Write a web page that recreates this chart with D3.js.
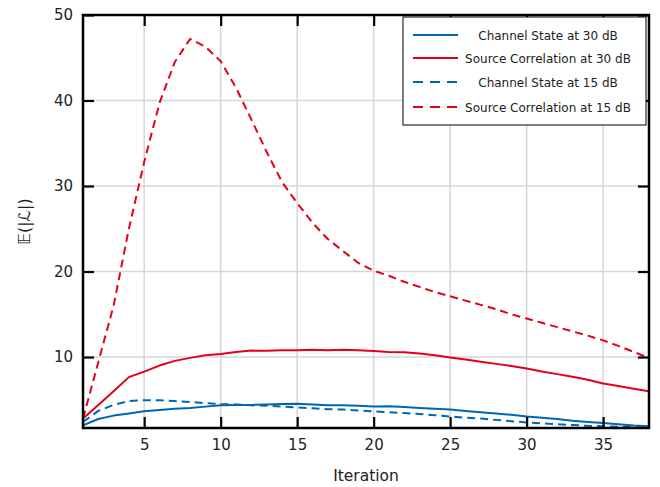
<!DOCTYPE html>
<html>
<head>
<meta charset="utf-8">
<script src="https://cdn.jsdelivr.net/npm/d3@7"></script>
<style>
  html, body { margin: 0; padding: 0; background: #fff; }
  svg { display: block; }
  text { font-family: "DejaVu Sans", sans-serif; fill: #222; }
</style>
</head>
<body>
<svg id="chart" width="660" height="487"></svg>
<script>
// Iterations 1..38
const iterations = d3.range(1, 39);

// Mean |L| per iteration for each setting
const channel30 = [2.0, 2.75, 3.15, 3.4, 3.65, 3.8, 3.95, 4.05, 4.2, 4.35,
  4.4, 4.4, 4.45, 4.5, 4.55, 4.45, 4.35, 4.35, 4.3, 4.2,
  4.25, 4.15, 4.05, 3.95, 3.85, 3.7, 3.55, 3.4, 3.25, 3.05,
  2.9, 2.75, 2.55, 2.4, 2.28, 2.15, 2.0, 1.9];
const source30 = [2.8, 4.4, 6.0, 7.65, 8.3, 9.0, 9.55, 9.9, 10.2, 10.35,
  10.6, 10.75, 10.72, 10.8, 10.78, 10.85, 10.8, 10.85, 10.8, 10.7,
  10.6, 10.55, 10.4, 10.2, 9.95, 9.7, 9.45, 9.2, 8.95, 8.65,
  8.3, 8.0, 7.7, 7.35, 6.9, 6.6, 6.3, 6.0];
const channel15 = [2.4, 3.7, 4.4, 4.85, 4.95, 4.95, 4.85, 4.75, 4.6, 4.5,
  4.45, 4.35, 4.3, 4.2, 4.1, 4.0, 3.9, 3.85, 3.75, 3.65,
  3.55, 3.45, 3.35, 3.2, 3.05, 2.9, 2.8, 2.65, 2.5, 2.35,
  2.25, 2.15, 2.05, 1.95, 1.9, 1.85, 1.8, 1.75];
const source15 = [2.8, 9.4, 16.0, 25.0, 32.8, 39.7, 44.5, 47.2, 46.3, 44.6,
  41.5, 37.8, 34.0, 30.5, 28.0, 25.7, 23.8, 22.4, 21.0, 20.1,
  19.5, 18.8, 18.2, 17.6, 17.1, 16.6, 16.1, 15.6, 15.0, 14.5,
  14.0, 13.5, 13.0, 12.5, 11.95, 11.3, 10.6, 9.9];

const xTicks = [5, 10, 15, 20, 25, 30, 35];
const yTicks = [10, 20, 30, 40, 50];

const seriesNames = ["Channel State at 30 dB", "Source Correlation at 30 dB",
  "Channel State at 15 dB", "Source Correlation at 15 dB"];
const seriesValues = [channel30, source30, channel15, source15];
const seriesColors = ["#0066b3", "#e3001b", "#0066b3", "#e3001b"];
const seriesDashed = [false, false, true, true];

const svg = d3.select("#chart");
const margin = { left: 83, right: 11, top: 15, bottom: 59 };
const W = 660, H = 487;
const x0 = margin.left, x1 = W - margin.right;
const y0 = H - margin.bottom, y1 = margin.top;

const x = d3.scaleLinear().domain([1, 38]).range([x0, x1]);
const y = d3.scaleLinear().domain([1.7, 50]).range([y0, y1]);

// grid
const grid = svg.append("g");
grid.selectAll(".gx").data(xTicks).join("line")
  .attr("x1", d => x(d)).attr("x2", d => x(d))
  .attr("y1", y0).attr("y2", y1)
  .attr("stroke", "#d6d6d6").attr("stroke-width", 1.5);
grid.selectAll(".gy").data(yTicks).join("line")
  .attr("x1", x0).attr("x2", x1)
  .attr("y1", d => y(d)).attr("y2", d => y(d))
  .attr("stroke", "#d6d6d6").attr("stroke-width", 1.5);

// data lines
const plot = svg.append("g");
plot.append("clipPath").attr("id", "clip").append("rect")
  .attr("x", x0).attr("y", y1).attr("width", x1 - x0).attr("height", y0 - y1);
const line = d3.line().x((d, i) => x(iterations[i])).y(d => y(d));
seriesValues.forEach((vals, k) => {
  plot.append("path")
    .attr("clip-path", "url(#clip)")
    .attr("d", line(vals))
    .attr("fill", "none")
    .attr("stroke", seriesColors[k])
    .attr("stroke-width", 2)
    .attr("stroke-dasharray", seriesDashed[k] ? "8,5" : null)
    .attr("stroke-linejoin", "round");
});

// axes with inward ticks on all four sides
const tickLen = 11;
const axB = svg.append("g").attr("transform", `translate(0,${y0})`)
  .call(d3.axisBottom(x).tickValues(xTicks).tickSizeInner(-tickLen).tickSizeOuter(0).tickPadding(11));
const axT = svg.append("g").attr("transform", `translate(0,${y1})`)
  .call(d3.axisTop(x).tickValues(xTicks).tickSizeInner(-tickLen).tickSizeOuter(0).tickFormat(""));
const axL = svg.append("g").attr("transform", `translate(${x0},0)`)
  .call(d3.axisLeft(y).tickValues(yTicks).tickSizeInner(-tickLen).tickSizeOuter(0).tickPadding(10));
const axR = svg.append("g").attr("transform", `translate(${x1},0)`)
  .call(d3.axisRight(y).tickValues(yTicks).tickSizeInner(-tickLen).tickSizeOuter(0).tickFormat(""));
[axB, axT, axL, axR].forEach(a => {
  a.select(".domain").remove();
  a.selectAll(".tick line").attr("stroke", "#000").attr("stroke-width", 2.2);
  a.selectAll(".tick text").attr("font-size", 15).attr("fill", "#222")
    .attr("font-family", "'DejaVu Sans', sans-serif");
});

// frame
svg.append("rect").attr("x", x0).attr("y", y1)
  .attr("width", x1 - x0).attr("height", y0 - y1)
  .attr("fill", "none").attr("stroke", "#000").attr("stroke-width", 2.5);

// axis titles
svg.append("text").attr("x", (x0 + x1) / 2).attr("y", 481)
  .attr("text-anchor", "middle").attr("font-size", 15.5).text("Iteration");
svg.append("text")
  .attr("transform", `translate(30,${(y0 + y1) / 2}) rotate(-90)`)
  .attr("text-anchor", "middle").attr("font-size", 16)
  .text("𝔼(|ℒ|)");

// legend
const lg = svg.append("g");
const lgX = 403, lgY = 17, lgW = 243, lgH = 108;
lg.append("rect").attr("x", lgX).attr("y", lgY).attr("width", lgW).attr("height", lgH)
  .attr("fill", "#fff").attr("stroke", "#000").attr("stroke-width", 1);
const rowY = [35, 58, 82, 107];
seriesNames.forEach((name, k) => {
  lg.append("line")
    .attr("x1", lgX + 10).attr("x2", lgX + 55)
    .attr("y1", rowY[k]).attr("y2", rowY[k])
    .attr("stroke", seriesColors[k]).attr("stroke-width", 2)
    .attr("stroke-dasharray", seriesDashed[k] ? "10,7" : null);
  lg.append("text").attr("x", 548).attr("y", rowY[k] + 4.5)
    .attr("text-anchor", "middle").attr("font-size", 12).text(name);
});
</script>
</body>
</html>
